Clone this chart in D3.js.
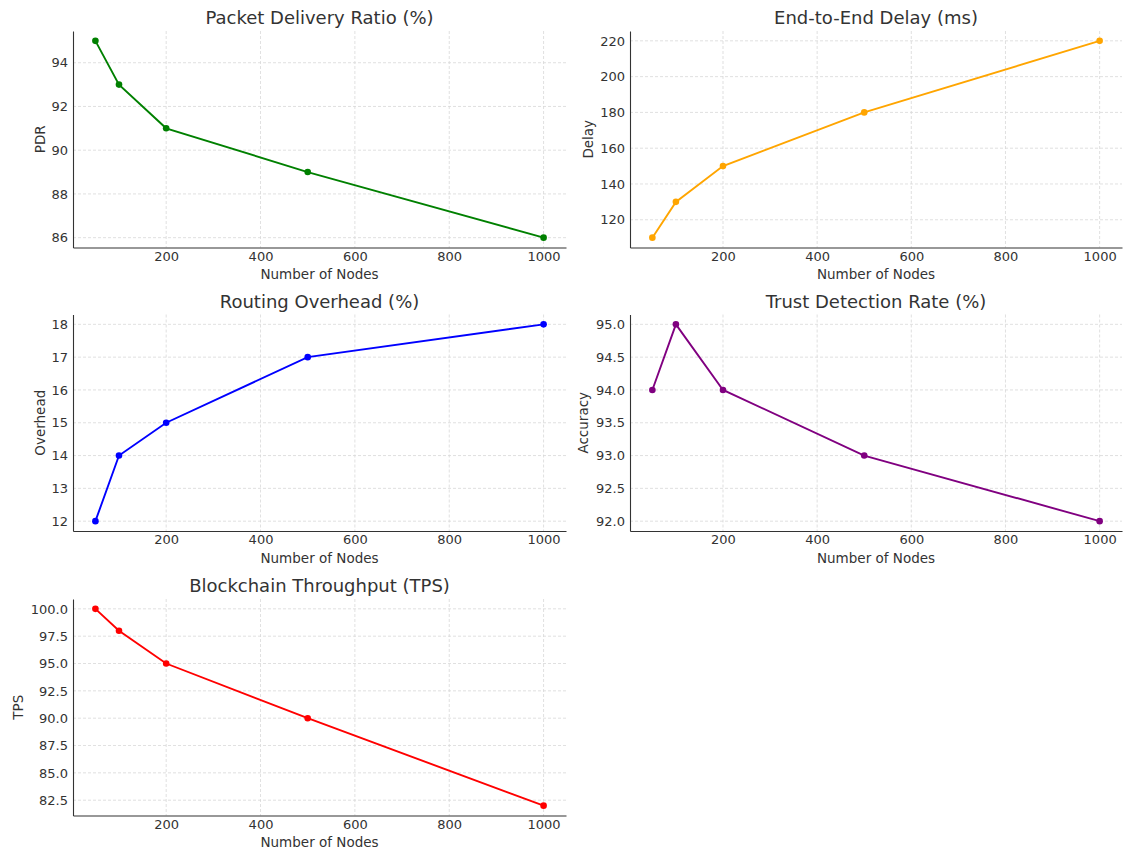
<!DOCTYPE html>
<html>
<head>
<meta charset="utf-8">
<script src="https://cdn.jsdelivr.net/npm/d3@7"></script>
<style>
  body { margin: 0; background: #fff; }
  svg text { font-family: "DejaVu Sans", sans-serif; fill: #333; }
</style>
</head>
<body>
<div id="chart"></div>
<script>
// node counts shared by every panel
const nodes = [50, 100, 200, 500, 1000];

const pdr = [95, 93, 91, 89, 86];
const delay = [110, 130, 150, 180, 220];
const overhead = [12, 14, 15, 17, 18];
const accuracy = [94, 95, 94, 93, 92];
const tps = [100, 98, 95, 90, 82];

const xTicks = [200, 400, 600, 800, 1000];
const pdrTicks = [86, 88, 90, 92, 94];
const delayTicks = [120, 140, 160, 180, 200, 220];
const overheadTicks = [12, 13, 14, 15, 16, 17, 18];
const accuracyTicks = [92.0, 92.5, 93.0, 93.5, 94.0, 94.5, 95.0];
const tpsTicks = [82.5, 85.0, 87.5, 90.0, 92.5, 95.0, 97.5, 100.0];

const width = 1123, height = 853;

const svg = d3.select("#chart").append("svg")
    .attr("width", width)
    .attr("height", height);

// panel boxes (pixels) - columns and rows of the 3x2 grid
const cols = [[73, 566], [630, 1122]];
const rows = [31, 314.5, 599];
const panelH = 216.5;

const panels = [
    { title: "Packet Delivery Ratio (%)", ylabel: "PDR", values: pdr, ticks: pdrTicks, fmt: d3.format("d"), color: "green", col: 0, row: 0, labelX: 40 },
    { title: "End-to-End Delay (ms)", ylabel: "Delay", values: delay, ticks: delayTicks, fmt: d3.format("d"), color: "orange", col: 1, row: 0, labelX: 588 },
    { title: "Routing Overhead (%)", ylabel: "Overhead", values: overhead, ticks: overheadTicks, fmt: d3.format("d"), color: "blue", col: 0, row: 1, labelX: 40 },
    { title: "Trust Detection Rate (%)", ylabel: "Accuracy", values: accuracy, ticks: accuracyTicks, fmt: d3.format(".1f"), color: "purple", col: 1, row: 1, labelX: 583 },
    { title: "Blockchain Throughput (TPS)", ylabel: "TPS", values: tps, ticks: tpsTicks, fmt: d3.format(".1f"), color: "red", col: 0, row: 2, labelX: 18 }
];

// matplotlib-like 5% padding around the data
const padExtent = (arr) => {
    const [lo, hi] = d3.extent(arr);
    const m = (hi - lo) * 0.05;
    return [lo - m, hi + m];
};

const drawPanel = (p) => {
    const x0 = cols[p.col][0], x1 = cols[p.col][1];
    const y0 = rows[p.row], y1 = y0 + panelH;

    const xScale = d3.scaleLinear().domain(padExtent(nodes)).range([x0, x1]);
    const yScale = d3.scaleLinear().domain(padExtent(p.values)).range([y1, y0]);

    const g = svg.append("g");

    // dashed grid
    g.append("g").selectAll("line.vx")
        .data(xTicks)
        .enter().append("line")
        .attr("x1", d => xScale(d)).attr("x2", d => xScale(d))
        .attr("y1", y0).attr("y2", y1)
        .attr("stroke", "#d8d8d8").attr("stroke-width", 0.8)
        .attr("stroke-dasharray", "3,2");

    g.append("g").selectAll("line.hy")
        .data(p.ticks)
        .enter().append("line")
        .attr("x1", x0).attr("x2", x1)
        .attr("y1", d => yScale(d)).attr("y2", d => yScale(d))
        .attr("stroke", "#d8d8d8").attr("stroke-width", 0.8)
        .attr("stroke-dasharray", "3,2");

    // axes (left + bottom spines only, no tick marks)
    const xAxis = g.append("g")
        .attr("transform", `translate(0, ${y1})`)
        .call(d3.axisBottom(xScale).tickValues(xTicks).tickSize(0).tickPadding(4).tickFormat(d3.format("d")));
    const yAxis = g.append("g")
        .attr("transform", `translate(${x0}, 0)`)
        .call(d3.axisLeft(yScale).tickValues(p.ticks).tickSize(0).tickPadding(5).tickFormat(p.fmt));

    [xAxis, yAxis].forEach(ax => {
        ax.select(".domain").attr("stroke", "#333").attr("stroke-width", 1.1);
        ax.selectAll("text").style("font-size", "13px").style("font-family", "DejaVu Sans").attr("fill", "#333");
    });

    // line + markers
    const line = d3.line()
        .x((d, i) => xScale(nodes[i]))
        .y(d => yScale(d));

    g.append("path")
        .datum(p.values)
        .attr("d", line)
        .attr("fill", "none")
        .attr("stroke", p.color)
        .attr("stroke-width", 1.9);

    g.selectAll("circle")
        .data(p.values)
        .enter().append("circle")
        .attr("cx", (d, i) => xScale(nodes[i]))
        .attr("cy", d => yScale(d))
        .attr("r", 3.3)
        .attr("fill", p.color);

    // title and axis labels
    g.append("text")
        .attr("x", (x0 + x1) / 2)
        .attr("y", y0 - 13)
        .attr("dy", "0.35em")
        .attr("text-anchor", "middle")
        .style("font-size", "18px")
        .text(p.title);

    g.append("text")
        .attr("x", (x0 + x1) / 2)
        .attr("y", y1 + 27)
        .attr("dy", "0.35em")
        .attr("text-anchor", "middle")
        .style("font-size", "13.5px")
        .text("Number of Nodes");

    g.append("text")
        .attr("transform", `translate(${p.labelX}, ${(y0 + y1) / 2}) rotate(-90)`)
        .attr("dy", "0.35em")
        .attr("text-anchor", "middle")
        .style("font-size", "13.5px")
        .text(p.ylabel);
};

panels.forEach(drawPanel);
</script>
</body>
</html>
